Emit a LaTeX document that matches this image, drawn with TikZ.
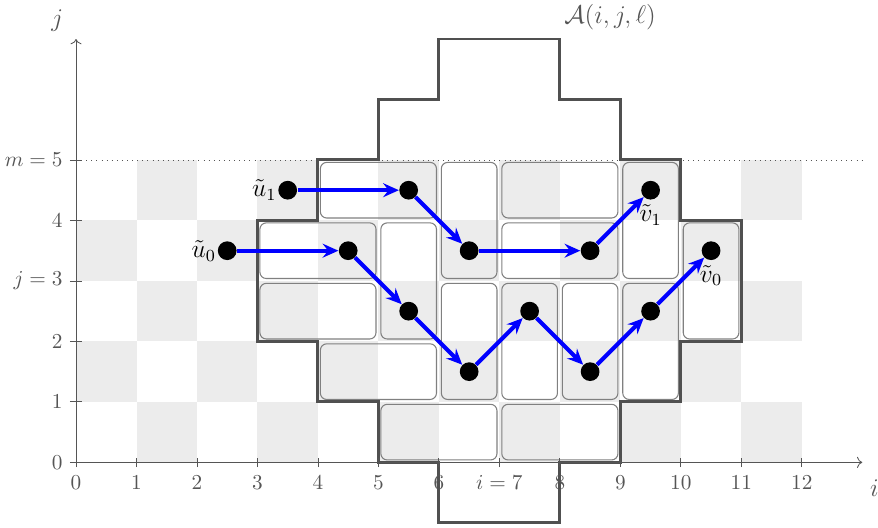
\documentclass[tikz,border=0pt]{standalone}
\usepackage{amssymb}
\usepackage{amsmath}
\usetikzlibrary{arrows.meta}

\definecolor{axisgray}{HTML}{555555}
\definecolor{boardgray}{HTML}{ECECEC}
\definecolor{rimgray}{HTML}{505050}

\tikzset{
  dot/.style={circle, fill=black, inner sep=0pt, minimum size=0.31cm},
  tile/.style={draw=gray, line width=0.5pt, rounded corners=3pt},
  rim/.style={draw=rimgray, line width=1.4pt, line join=miter},
  walk/.style={draw=blue, line width=1.9pt,
    -{Stealth[length=2.6mm, width=2.3mm, inset=0.9mm]}},
  endlab/.style={font=\large, inner sep=0.5pt},
}

\begin{document}
\begin{tikzpicture}
  \useasboundingbox (-1.257,-1.07) rectangle (13.26,7.645);

  % checkerboard
  \foreach \i in {0,...,11}
    \foreach \j in {0,...,4} {
      \pgfmathtruncatemacro\parity{mod(\i+\j,2)}
      \ifnum\parity=1
        \fill[boardgray] (\i,\j) rectangle ++(1,1);
      \fi
    }

  % dominoes
  \foreach \xa/\ya/\xb/\yb in {4/4/6/5, 6/3/7/5, 7/4/9/5, 9/3/10/5, 10/2/11/4,
      3/3/5/4, 5/2/6/4, 7/3/9/4, 3/2/5/3, 6/1/7/3, 7/1/8/3, 8/1/9/3,
      9/1/10/3, 4/1/6/2, 5/0/7/1, 7/0/9/1}
    \draw[tile] (\xa+0.04,\ya+0.04) rectangle (\xb-0.04,\yb-0.04);

  \draw[axisgray, dotted] (0,5) -- (13,5);

  % region A(i,j,l)
  \draw[rim] (6,7) -- (8,7) -- (8,6) -- (9,6) -- (9,5) -- (10,5) -- (10,4)
    -- (11,4) -- (11,2) -- (10,2) -- (10,1) -- (9,1) -- (9,0) -- (8,0)
    -- (8,-1) -- (6,-1) -- (6,0) -- (5,0) -- (5,1) -- (4,1) -- (4,2)
    -- (3,2) -- (3,4) -- (4,4) -- (4,5) -- (5,5) -- (5,6) -- (6,6) -- cycle;
  \node[axisgray, font=\large] (A) at (8.83,7.36) {$\mathcal{A}(i,j,\ell)$};

  % axes
  \draw[axisgray, ->] (0,0) -- (13,0);
  \draw[axisgray, ->] (0,0) -- (0,7);
  \node[axisgray, font=\large] (ilab) at (13.2,-0.42) {$i$};
  \node[axisgray, font=\large] (jlab) at (-0.31,7.31) {$j$};
  \foreach \i/\t in {0/0,1/1,2/2,3/3,4/4,5/5,6/6,7/{i=7},8/8,9/9,10/10,11/11,12/12} {
    \draw[axisgray] (\i,-0.08) -- (\i,0.08);
    \node[axisgray, anchor=north] at (\i,-0.1) {$\t$};
  }
  \foreach \j/\t in {0/0,1/1,2/2,3/{j=3},4/4,5/{m=5}} {
    \draw[axisgray] (-0.1,\j) -- (0.1,\j);
    \node[axisgray, anchor=east] at (-0.1,\j) {$\t$};
  }

  % walks
  \node[dot, label={[endlab]left:$\tilde{u}_1$}] (u1) at (3.5,4.5) {};
  \node[dot] (a1) at (5.5,4.5) {};
  \node[dot] (a2) at (6.5,3.5) {};
  \node[dot] (a3) at (8.5,3.5) {};
  \node[dot, label={[endlab, inner sep=2pt]below:$\tilde{v}_1$}] (v1) at (9.5,4.5) {};

  \node[dot, label={[endlab]left:$\tilde{u}_0$}] (u0) at (2.5,3.5) {};
  \node[dot] (b1) at (4.5,3.5) {};
  \node[dot] (b2) at (5.5,2.5) {};
  \node[dot] (b3) at (6.5,1.5) {};
  \node[dot] (b4) at (7.5,2.5) {};
  \node[dot] (b5) at (8.5,1.5) {};
  \node[dot] (b6) at (9.5,2.5) {};
  \node[dot, label={[endlab, inner sep=2pt]below:$\tilde{v}_0$}] (v0) at (10.5,3.5) {};

  \draw[walk] (u1) -- (a1);
  \draw[walk] (a1) -- (a2);
  \draw[walk] (a2) -- (a3);
  \draw[walk] (a3) -- (v1);

  \draw[walk] (u0) -- (b1);
  \draw[walk] (b1) -- (b2);
  \draw[walk] (b2) -- (b3);
  \draw[walk] (b3) -- (b4);
  \draw[walk] (b4) -- (b5);
  \draw[walk] (b5) -- (b6);
  \draw[walk] (b6) -- (v0);
\end{tikzpicture}
\end{document}
